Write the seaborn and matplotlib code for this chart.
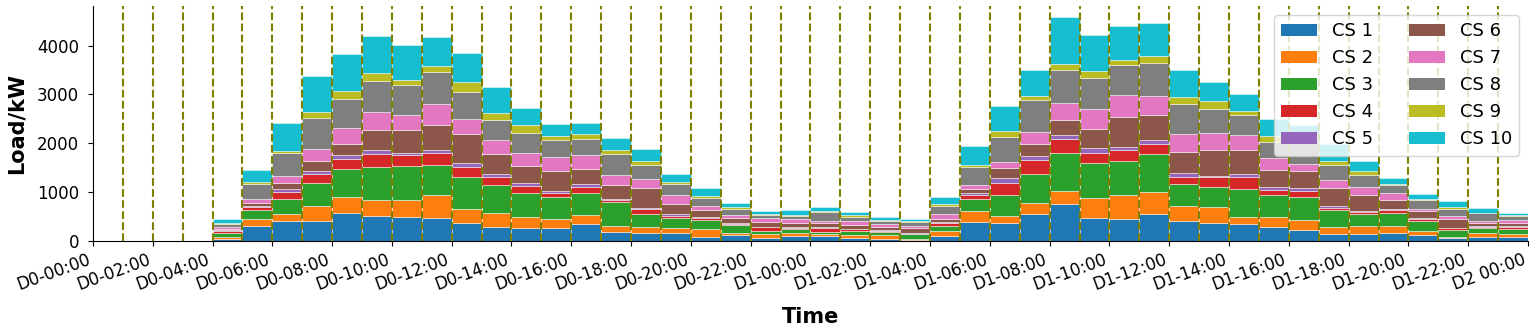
import numpy as np
import pandas as pd
import matplotlib
matplotlib.use("Agg")
import matplotlib.pyplot as plt
import seaborn as sns
from matplotlib.patches import Patch

# hourly load per charging station (kW), hours 0..47 over two days
cs1 = [0, 0, 0, 0, 40, 315, 415, 410, 565, 520, 500, 480, 370, 295, 265, 275, 340, 180, 155, 170, 90, 125, 70, 110,
       110, 70, 50, 20, 110, 395, 375, 560, 750, 465, 450, 560, 410, 375, 350, 280, 230, 145, 135, 155, 125, 55, 90, 75]
cs2 = [0, 0, 0, 0, 35, 145, 145, 305, 340, 320, 340, 465, 285, 285, 220, 170, 190, 130, 135, 95, 150, 40, 70, 50,
       40, 55, 70, 20, 100, 225, 135, 220, 275, 415, 485, 445, 300, 315, 145, 220, 190, 135, 170, 150, 70, 35, 70, 60]
cs3 = [0, 0, 0, 0, 95, 165, 295, 480, 560, 665, 705, 620, 665, 565, 490, 450, 445, 480, 260, 205, 190, 165, 70, 80,
       40, 80, 55, 95, 95, 230, 430, 595, 770, 710, 710, 785, 450, 410, 565, 445, 485, 355, 245, 260, 205, 135, 100, 110]
cs4 = [0, 0, 0, 0, 35, 70, 155, 185, 220, 285, 220, 230, 190, 170, 155, 80, 135, 50, 95, 50, 50, 25, 70, 25,
       80, 35, 35, 15, 70, 90, 240, 275, 285, 220, 220, 205, 155, 200, 260, 100, 110, 50, 50, 70, 50, 35, 35, 50]
cs5 = [0, 0, 0, 0, 15, 20, 60, 60, 75, 80, 35, 60, 95, 55, 60, 55, 60, 25, 40, 25, 20, 15, 15, 15,
       15, 15, 15, 10, 20, 50, 100, 80, 95, 90, 60, 75, 75, 40, 50, 70, 60, 40, 20, 25, 20, 15, 20, 15]
cs6 = [0, 0, 0, 0, 20, 55, 115, 205, 225, 405, 465, 520, 585, 410, 355, 395, 300, 275, 405, 205, 125, 100, 95, 80,
       90, 70, 55, 100, 60, 75, 220, 260, 295, 390, 620, 510, 425, 525, 485, 330, 350, 355, 320, 180, 135, 180, 60, 55]
cs7 = [0, 0, 0, 0, 40, 95, 155, 245, 335, 360, 305, 430, 300, 280, 265, 285, 285, 205, 180, 190, 100, 55, 80, 90,
       35, 75, 70, 40, 90, 80, 125, 245, 350, 410, 450, 380, 375, 355, 320, 255, 150, 170, 170, 150, 55, 60, 40, 70]
cs8 = [0, 0, 0, 0, 60, 300, 470, 630, 595, 640, 615, 655, 560, 415, 405, 355, 330, 445, 280, 230, 150, 130, 55, 60,
       180, 100, 50, 95, 170, 375, 510, 655, 670, 635, 600, 675, 620, 485, 395, 320, 490, 305, 240, 155, 185, 135, 150, 70]
cs9 = [0, 0, 0, 0, 25, 35, 40, 110, 155, 155, 110, 115, 210, 135, 155, 80, 110, 80, 90, 40, 55, 50, 35, 20,
       20, 35, 20, 20, 40, 40, 115, 70, 135, 150, 115, 145, 130, 155, 100, 125, 70, 80, 80, 25, 20, 55, 15, 20]
cs10 = [0, 0, 0, 0, 95, 260, 555, 750, 760, 765, 710, 595, 585, 540, 350, 245, 230, 245, 240, 170, 150, 70, 60, 100,
        80, 60, 70, 35, 150, 385, 510, 545, 955, 740, 690, 675, 560, 395, 330, 355, 240, 360, 205, 115, 100, 110, 90, 50]

stations = ['CS 1', 'CS 2', 'CS 3', 'CS 4', 'CS 5', 'CS 6', 'CS 7', 'CS 8', 'CS 9', 'CS 10']
loads = [cs1, cs2, cs3, cs4, cs5, cs6, cs7, cs8, cs9, cs10]
hours = np.arange(48)
tick_hours = np.arange(0, 49, 2)
tick_labels = [f"D{h // 24}-{h % 24:02d}:00" for h in tick_hours[:-1]] + ["D2 00:00"]

df = pd.concat([pd.DataFrame({'hour': hours + 0.5, 'cs': name, 'load': vals})
                for name, vals in zip(stations, loads)], ignore_index=True)

palette = dict(zip(stations, sns.color_palette('tab10', 10)))

fig = plt.figure(figsize=(15.36, 3.34), dpi=100)
ax = fig.add_axes([0.0605, 0.2784, 0.9343, 0.7036])

# seaborn stacks the first hue level on top, so reverse to keep CS 1 at the bottom
sns.histplot(data=df, x='hour', weights='load', hue='cs', hue_order=stations[::-1],
             palette=palette, multiple='stack', binwidth=1, binrange=(0, 48), alpha=1,
             edgecolor=(1, 1, 1, 0.55), linewidth=0.6, legend=False, ax=ax)

for h in range(1, 48):
    ax.axvline(h, color='olive', linestyle='--', linewidth=1.5, zorder=3)

ax.set_xlim(0, 48)
ax.set_xticks(tick_hours)
ax.set_xticklabels(tick_labels, rotation=20, ha='right', fontsize=12)
ax.tick_params(axis='y', labelsize=12, pad=6.5)
ax.set_xlabel('Time', fontsize=15, fontweight='bold', labelpad=9)
ax.set_ylabel('Load/kW', fontsize=15, fontweight='bold', labelpad=7.5)
sns.despine(ax=ax)

handles = [Patch(facecolor=palette[s], label=s) for s in stations]
ax.legend(handles=handles, loc='upper right', ncol=2, fontsize=13)

fig.savefig('out.png', dpi=100)
